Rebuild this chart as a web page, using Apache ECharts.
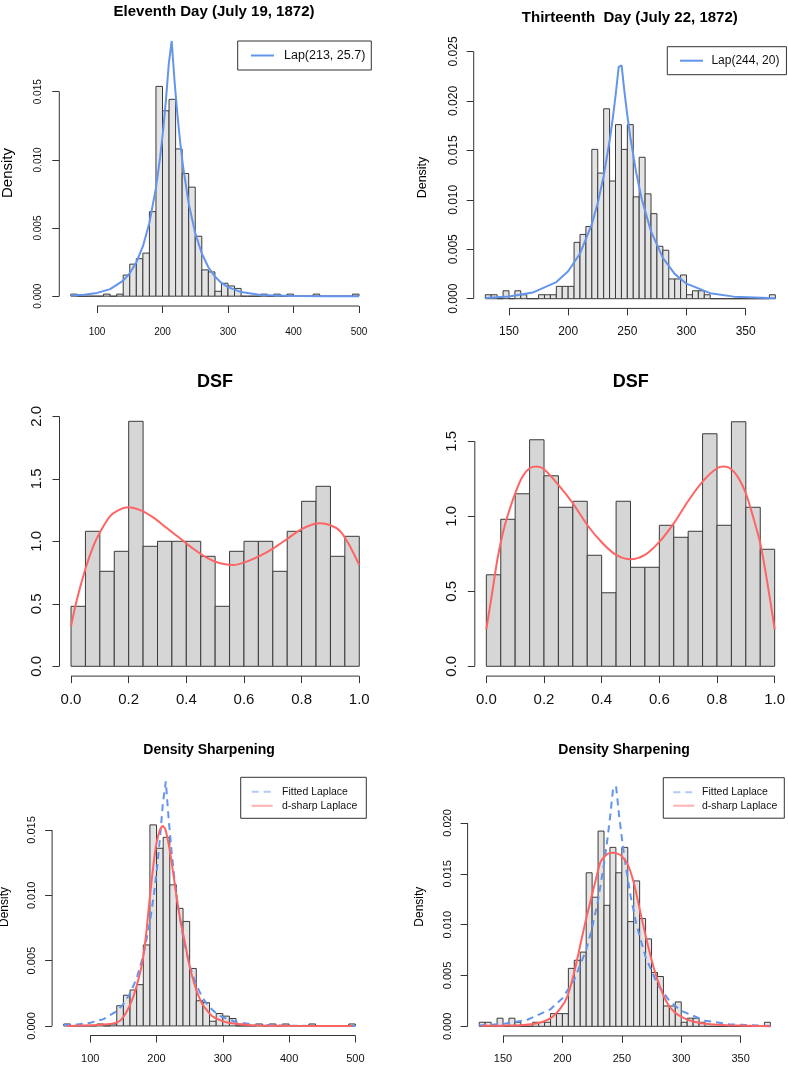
<!DOCTYPE html>
<html><head><meta charset="utf-8">
<script src="https://cdn.jsdelivr.net/npm/echarts@6/dist/echarts.min.js"></script>
<style>html,body{margin:0;padding:0;background:#fff}#c{width:788px;height:1069px}</style>
</head><body><div id="c"></div>
<script>
// ---------- data ----------
const day11BinStart = [60,70,80,90,100,110,120,130,140,150,160,170,180,190,200,210,220,230,240,250,260,270,280,290,300,310,320,330,340,350,360,370,380,390,400,410,420,430,440,450,460,470,480,490];
const day11BinWidth = 10;
const day11Density = [0.00015,0,0,0,0,0.00015,0,0.00015,0.00155,0.00235,0.00275,0.00316,0.0062,0.01539,0.0136,0.01444,0.0108,0.0090,0.0080,0.0044,0.00193,0.00178,0.00036,0.00095,0.00075,0.00057,0,0,0,0.00015,0,0.00015,0,0.00015,0,0,0,0.00015,0,0,0,0,0,0.00015];

const day13BinStart = [130,135,140,145,150,155,160,165,170,175,180,185,190,195,200,205,210,215,220,225,230,235,240,245,250,255,260,265,270,275,280,285,290,295,300,305,310,315,320,325,330,335,340,345,350,355,360,365,370];
const day13BinWidth = 5;
const day13Density = [0.0004,0.0004,0,0.0008,0,0.0008,0.0004,0,0,0.0004,0.0004,0.0004,0.00125,0.00125,0.00125,0.0057,0.0065,0.0073,0.0151,0.0127,0.0192,0.0119,0.0176,0.0151,0.0176,0.0103,0.0143,0.0106,0.0086,0.0053,0.0049,0.0020,0.0020,0.0024,0.0004,0.0008,0.0008,0.0004,0,0,0,0,0,0,0,0,0,0,0.0004];

const dsfBinStart = [0,0.05,0.1,0.15,0.2,0.25,0.3,0.35,0.4,0.45,0.5,0.55,0.6,0.65,0.7,0.75,0.8,0.85,0.9,0.95];
const dsfBinWidth = 0.05;
const dsf11Density = [0.48,1.08,0.76,0.92,1.96,0.96,1.0,1.0,1.0,0.88,0.48,0.92,1.0,1.0,0.76,1.08,1.32,1.44,0.88,1.04];
const dsf13Density = [0.61,0.98,1.15,1.51,1.27,1.06,1.10,0.74,0.49,1.10,0.66,0.66,0.94,0.86,0.90,1.55,0.94,1.63,1.06,0.78];

const lap11Curve = [[60,0.00005],[80,0.00011],[100,0.00024],[120,0.00052],[140,0.00114],[150,0.00168],[160,0.00248],[170,0.00365],[180,0.00539],[190,0.00795],[196.4,0.0102],[200.8,0.0121],[205.2,0.01437],[209.6,0.01705],[214,0.01872],[218.4,0.01577],[222.8,0.01329],[227.2,0.0112],[231.6,0.00944],[240,0.0068],[250,0.00461],[260,0.00313],[270,0.00212],[280,0.00144],[290,0.00097],[300,0.00066],[320,0.0003],[350,0.00009],[400,0.00001],[450,0],[500,0]];
const lap13Curve = [[130,0.00008],[150,0.00023],[170,0.00062],[190,0.00168],[200,0.00277],[210,0.00457],[220,0.00753],[225,0.00967],[230,0.01241],[235.35,0.01622],[237.8,0.01833],[240.25,0.02073],[242.7,0.02343],[245.15,0.0236],[247.6,0.02088],[250.05,0.01848],[252.5,0.01635],[257.4,0.01279],[262.3,0.01001],[270,0.00681],[280,0.00413],[290,0.00251],[300,0.00152],[320,0.00056],[340,0.00021],[375,0.00004]];
const sharp11Curve = [[65,0],[100,0.00005],[130,0.00015],[145,0.0004],[155,0.0011],[165,0.00224],[175,0.00403],[180,0.0053],[185,0.00735],[190,0.0099],[195,0.0122],[200,0.014],[205,0.015],[209,0.0153],[213,0.0151],[218,0.014],[223,0.01245],[228,0.01066],[235,0.00837],[243,0.00633],[250,0.00454],[260,0.00276],[270,0.00161],[285,0.00071],[305,0.00028],[340,0.00008],[400,0.00001],[495,0]];
const sharp13Curve = [[132,0.00005],[150,0.00007],[165,0.0001],[179,0.0003],[190,0.0008],[198.5,0.0018],[204,0.0029],[209.7,0.0052],[215.4,0.0082],[221,0.0111],[226.6,0.0137],[232.2,0.0162],[237.8,0.01695],[243.4,0.01708],[249,0.01682],[254.6,0.01603],[260.2,0.01407],[265.8,0.01111],[271.5,0.00816],[277,0.0057],[282.7,0.0037],[288.3,0.00226],[293.9,0.00144],[302.3,0.0008],[310.7,0.00046],[324.7,0.0002],[338.8,0.0001],[375,0]];
const dsf11Curve = [[0,0.32],[0.02,0.53],[0.05,0.78],[0.077,0.96],[0.1,1.07],[0.135,1.2],[0.17,1.256],[0.2,1.272],[0.24,1.25],[0.286,1.19],[0.33,1.11],[0.378,1.024],[0.424,0.94],[0.47,0.87],[0.517,0.824],[0.563,0.81],[0.609,0.837],[0.655,0.883],[0.702,0.944],[0.748,1.016],[0.794,1.09],[0.84,1.136],[0.864,1.144],[0.898,1.13],[0.933,1.083],[0.962,0.984],[1.0,0.81]];
const dsf13Curve = [[0,0.247],[0.02,0.487],[0.04,0.73],[0.06,0.91],[0.08,1.04],[0.1,1.153],[0.125,1.264],[0.15,1.32],[0.175,1.331],[0.2,1.313],[0.25,1.209],[0.3,1.087],[0.35,0.942],[0.4,0.827],[0.45,0.742],[0.5,0.713],[0.55,0.742],[0.6,0.829],[0.65,0.953],[0.7,1.102],[0.75,1.231],[0.8,1.32],[0.825,1.331],[0.85,1.313],[0.875,1.253],[0.9,1.153],[0.925,0.998],[0.95,0.82],[0.975,0.553],[1.0,0.247]];

const day11XTicks = [100,200,300,400,500];
const day13XTicks = [150,200,250,300,350];
const dsfXTicks = [0,0.2,0.4,0.6,0.8,1.0];
const day11YTicks = [0,0.005,0.010,0.015];
const day13YTicks = [0,0.005,0.010,0.015,0.020,0.025];
const sharp13YTicks = [0,0.005,0.010,0.015,0.020];
const dsf11YTicks = [0,0.5,1.0,1.5,2.0];
const dsf13YTicks = [0,0.5,1.0,1.5];

const titles = ['Eleventh Day (July 19, 1872)','Thirteenth  Day (July 22, 1872)','DSF','DSF','Density Sharpening','Density Sharpening'];

// ---------- layout ----------
const FONT = "'Liberation Sans', Arial, Helvetica, sans-serif";
const BLUE = '#6495ED', RED = '#FF6464';
// R-style limits: data range, extended 4% on each side
function usr(a, b){ const d=(b-a)*0.04; return [a-d, b+d]; }
const panels = [
  {grid:{left:59.3,top:41,width:311.2,height:265}, xl:usr(60,500), yl:usr(0,0.018), xt:day11XTicks, yt:day11YTicks, xd:0, yd:3, fs:10, xm:21.5, ym:16},
  {grid:{left:473.7,top:46.7,width:313.2,height:261.7}, xl:usr(130,375), yl:usr(0,0.0245), xt:day13XTicks, yt:day13YTicks, xd:0, yd:3, fs:12, xm:17, ym:14},
  {grid:{left:59.5,top:411.5,width:311.3,height:264.6}, xl:usr(0,1), yl:usr(0,1.96), xt:dsfXTicks, yt:dsf11YTicks, xd:1, yd:1, fs:15, xm:16, ym:15},
  {grid:{left:474.8,top:411.2,width:311.4,height:264.9}, xl:usr(0,1), yl:usr(0,1.635), xt:dsfXTicks, yt:dsf13YTicks, xd:1, yd:1, fs:15, xm:16, ym:15},
  {grid:{left:52.1,top:777.3,width:314.9,height:258.2}, xl:usr(60,500), yl:usr(0,0.0183), xt:day11XTicks, yt:day11YTicks, xd:0, yd:3, fs:11, xm:18, ym:14.3},
  {grid:{left:467.6,top:777.7,width:314.4,height:258.2}, xl:usr(130,375), yl:usr(0,0.02351), xt:day13XTicks, yt:sharp13YTicks, xd:0, yd:3, fs:11, xm:18, ym:13.7}
];

const grids=[], xAxes=[], yAxes=[], series=[];
panels.forEach((p,i)=>{
  grids.push(Object.assign({outerBoundsMode:'none', containLabel:false}, p.grid));
  const lbl = {color:'#111', fontFamily:FONT, fontSize:p.fs};
  xAxes.push({type:'value', gridIndex:i, min:p.xl[0], max:p.xl[1], splitLine:{show:false},
    axisLine:{show:false, onZero:false}, axisTick:{show:true, inside:false, length:7, lineStyle:{color:'#333'}, customValues:p.xt},
    axisLabel:Object.assign({margin:p.xm, customValues:p.xt, formatter:v=>Number(v).toFixed(p.xd)}, lbl)});
  yAxes.push({type:'value', gridIndex:i, min:p.yl[0], max:p.yl[1], splitLine:{show:false},
    axisLine:{show:false, onZero:false}, axisTick:{show:true, inside:false, length:7, lineStyle:{color:'#333'}, customValues:p.yt},
    axisLabel:Object.assign({margin:p.ym, rotate:90, customValues:p.yt, formatter:v=>Number(v).toFixed(p.yd)}, lbl)});
  // R-style axis lines from first to last tick
  const lineS = {type:'line', xAxisIndex:i, yAxisIndex:i, symbol:'none', clip:false, silent:true, z:4,
    lineStyle:{color:'#333', width:1}, animation:false};
  series.push(Object.assign({data:[[p.xt[0],p.yl[0]],[p.xt[p.xt.length-1],p.yl[0]]]}, lineS));
  series.push(Object.assign({data:[[p.xl[0],p.yt[0]],[p.xl[0],p.yt[p.yt.length-1]]]}, lineS));
});

function hist(i, starts, width, dens, fill){
  return {type:'custom', xAxisIndex:i, yAxisIndex:i, silent:true, z:1, animation:false,
    data: starts.map((s,k)=>[s, s+width, dens[k]]),
    encode:{x:[0,1], y:2},
    renderItem:(params, api)=>{
      const a = api.coord([api.value(0), 0]);
      const b = api.coord([api.value(1), api.value(2)]);
      return {type:'rect', shape:{x:a[0], y:b[1], width:b[0]-a[0], height:a[1]-b[1]},
        style:{fill:fill, stroke:'#3a3a3a', lineWidth:1}};
    }};
}
function curve(i, name, data, color, dashed, smooth){
  return {type:'line', name:name, xAxisIndex:i, yAxisIndex:i, data:data, symbol:'none', showSymbol:false, smooth:smooth||false,
    silent:true, z:3, animation:false, clip:false,
    lineStyle:{color:color, width:2, type: dashed ? [7,5] : 'solid'}, itemStyle:{color:color}};
}
const LIGHT = '#E4E4E4', MID = '#D6D6D6';
series.push(hist(0, day11BinStart, day11BinWidth, day11Density, LIGHT));
series.push(curve(0, 'Lap(213, 25.7)', lap11Curve, BLUE));
series.push(hist(1, day13BinStart, day13BinWidth, day13Density, LIGHT));
series.push(curve(1, 'Lap(244, 20)', lap13Curve, BLUE));
series.push(hist(2, dsfBinStart, dsfBinWidth, dsf11Density, MID));
series.push(curve(2, 'dsf11', dsf11Curve, RED, false, 0.3));
series.push(hist(3, dsfBinStart, dsfBinWidth, dsf13Density, MID));
series.push(curve(3, 'dsf13', dsf13Curve, RED, false, 0.3));
series.push(hist(4, day11BinStart, day11BinWidth, day11Density, LIGHT));
series.push(curve(4, 'Fitted Laplace', lap11Curve, BLUE, true));
series.push(curve(4, 'd-sharp Laplace', sharp11Curve, RED, false, 0.2));
series.push(hist(5, day13BinStart, day13BinWidth, day13Density, LIGHT));
series.push(curve(5, 'Fitted Laplace', lap13Curve, BLUE, true));
series.push(curve(5, 'd-sharp Laplace', sharp13Curve, RED, false, 0.2));

function legend(left, top, names, fs, iw, ih, gap, pad, tpad, light){
  return {left:left, top:top, orient:'vertical', padding:pad, itemWidth:iw, itemHeight:ih, itemGap:gap,
    borderColor:'#333', borderWidth:1, selectedMode:false, backgroundColor:'#fff',
    itemStyle:{opacity:0},
    lineStyle: light ? {opacity:0.5, width:2} : {width:2},
    textStyle:{fontSize:fs, color:'#111', fontFamily:FONT, padding:[0,0,0,tpad]},
    data: names.map(n=>({name:n}))};
}
const legends = [
  legend(237.7, 41, ['Lap(213, 25.7)'], 12.5, 23, 14, 0, [8,6,8,12.3], 5),
  legend(667.3, 46.7, ['Lap(244, 20)'], 12, 23, 14, 0, [8,7,8,11.7], 3.4),
  legend(240.7, 777.3, ['Fitted Laplace','d-sharp Laplace'], 10.5, 21, 10, 3, [9,9,7,10], 4.3, true),
  legend(663.3, 777.7, ['Fitted Laplace','d-sharp Laplace'], 10.5, 21, 10, 2.5, [9,7,7,9], 2.7, true)
];

function txt(x, y, s, size, bold, rot){
  return {type:'text', x:x, y:y, rotation:rot||0, silent:true,
    style:{text:s, fontSize:size, fontWeight:bold?'bold':'normal', fontFamily:FONT, fill:'#000',
      align:'center', verticalAlign:'middle', textAlign:'center', textVerticalAlign:'middle'}};
}
const graphics = [
  txt(214, 12, titles[0], 15, true),
  txt(629.8, 18, titles[1], 15, true),
  txt(215, 381.7, titles[2], 18, true),
  txt(630.7, 381.7, titles[3], 18, true),
  txt(209, 750, titles[4], 14, true),
  txt(624, 750, titles[5], 14, true),
  txt(8, 173, 'Density', 15, false, Math.PI/2),
  txt(423, 177.5, 'Density', 12.5, false, Math.PI/2),
  txt(4.5, 907, 'Density', 12, false, Math.PI/2),
  txt(420, 906.7, 'Density', 12, false, Math.PI/2)
];

const chart = echarts.init(document.getElementById('c'), null, {renderer:'canvas'});
chart.setOption({
  backgroundColor:'#fff', animation:false,
  grid:grids, xAxis:xAxes, yAxis:yAxes, series:series, legend:legends, graphic:graphics
});
</script></body></html>
